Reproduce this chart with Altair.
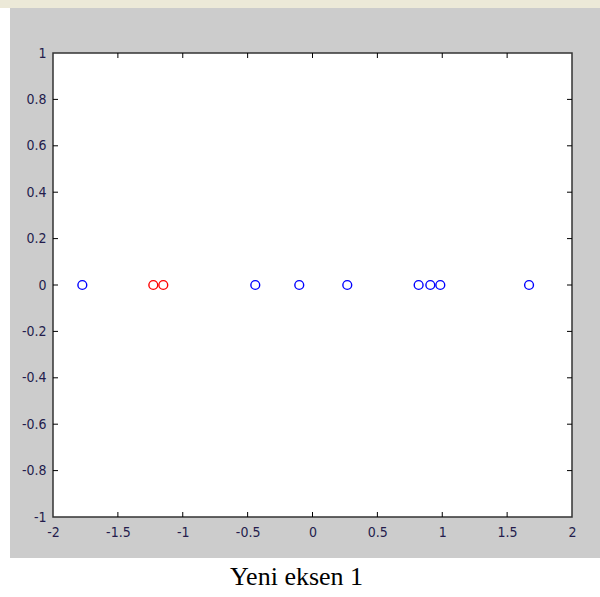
import altair as alt
import pandas as pd

# Projected samples on the first new axis (all lie on y = 0)
blue_x = [-1.774, -0.441, -0.102, 0.268, 0.818, 0.908, 0.985, 1.669]
red_x = [-1.227, -1.150]

x_ticks = [-2, -1.5, -1, -0.5, 0, 0.5, 1, 1.5, 2]
y_ticks = [-1, -0.8, -0.6, -0.4, -0.2, 0, 0.2, 0.4, 0.6, 0.8, 1]

W, H = 519, 464

points = pd.DataFrame(
    {
        "x": blue_x + red_x,
        "y": [0.0] * (len(blue_x) + len(red_x)),
        "grup": ["mavi"] * len(blue_x) + ["kirmizi"] * len(red_x),
    }
)
inner_x = pd.DataFrame({"t": x_ticks[1:-1]})
inner_y = pd.DataFrame({"t": y_ticks[1:-1]})
one = pd.DataFrame({"k": [0]})

xs = alt.Scale(domain=[-2, 2], nice=False, zero=False)
ys = alt.Scale(domain=[-1, 1], nice=False, zero=False)

label_font = "Liberation Sans Narrow, DejaVu Sans Condensed, Liberation Sans, sans-serif"
label_color = "#241c4c"

x_axis = alt.Axis(
    values=x_ticks, title=None, grid=False, domain=False, ticks=False,
    labelExpr="'' + datum.value", labelFlush=False, labelOverlap=False,
    labelPadding=8, labelFont=label_font, labelFontSize=14,
    labelColor=label_color, zindex=1,
)
y_axis = alt.Axis(
    values=y_ticks, title=None, grid=False, domain=False, ticks=False,
    labelExpr="'' + datum.value", labelFlush=False, labelOverlap=False,
    labelPadding=7, labelFont=label_font, labelFontSize=14,
    labelColor=label_color, zindex=1,
)

# Window strip, grey figure background and white axes box
strip = alt.Chart(one).mark_rect(color="#ece9d8").encode(
    x=alt.value(-53), x2=alt.value(W + 28), y=alt.value(-53), y2=alt.value(-45)
)
figure_bg = alt.Chart(one).mark_rect(color="#cccccc").encode(
    x=alt.value(-43), x2=alt.value(W + 28), y=alt.value(-45), y2=alt.value(H + 41)
)
axes_box = alt.Chart(one).mark_rect(
    fill="white", stroke="#333333", strokeWidth=1.5
).encode(x=alt.value(0), x2=alt.value(W), y=alt.value(0), y2=alt.value(H))

# Inward ticks on all four sides
tick_style = dict(color="black", strokeWidth=1)
xt_bottom = alt.Chart(inner_x).mark_rule(**tick_style).encode(
    x=alt.X("t:Q", scale=xs, axis=x_axis), y=alt.value(H), y2=alt.value(H - 5)
)
xt_top = alt.Chart(inner_x).mark_rule(**tick_style).encode(
    x=alt.X("t:Q", scale=xs), y=alt.value(0), y2=alt.value(5)
)
yt_left = alt.Chart(inner_y).mark_rule(**tick_style).encode(
    y=alt.Y("t:Q", scale=ys, axis=y_axis), x=alt.value(0), x2=alt.value(5)
)
yt_right = alt.Chart(inner_y).mark_rule(**tick_style).encode(
    y=alt.Y("t:Q", scale=ys), x=alt.value(W), x2=alt.value(W - 5)
)

dots = alt.Chart(points).mark_point(
    shape="circle", filled=False, size=78, strokeWidth=1.4, opacity=1
).encode(
    x=alt.X("x:Q", scale=xs),
    y=alt.Y("y:Q", scale=ys),
    color=alt.Color(
        "grup:N",
        scale=alt.Scale(domain=["mavi", "kirmizi"], range=["#0000ff", "#ff0000"]),
        legend=None,
    ),
)

chart = (
    alt.layer(strip, figure_bg, axes_box, xt_bottom, xt_top, yt_left, yt_right, dots)
    .properties(
        width=W,
        height=H,
        background="white",
        padding={"left": 53, "top": 53, "right": 28, "bottom": 80},
        autosize=alt.AutoSizeParams(type="none"),
        title=alt.Title(
            "Yeni eksen 1",
            orient="bottom",
            anchor="middle",
            font="Liberation Serif",
            fontSize=26,
            fontWeight="normal",
            color="black",
            dx=-16,
            offset=6,
        ),
    )
    .configure_view(stroke=None)
)

chart.save("out.html", embed_options={"renderer": "svg", "actions": False})
